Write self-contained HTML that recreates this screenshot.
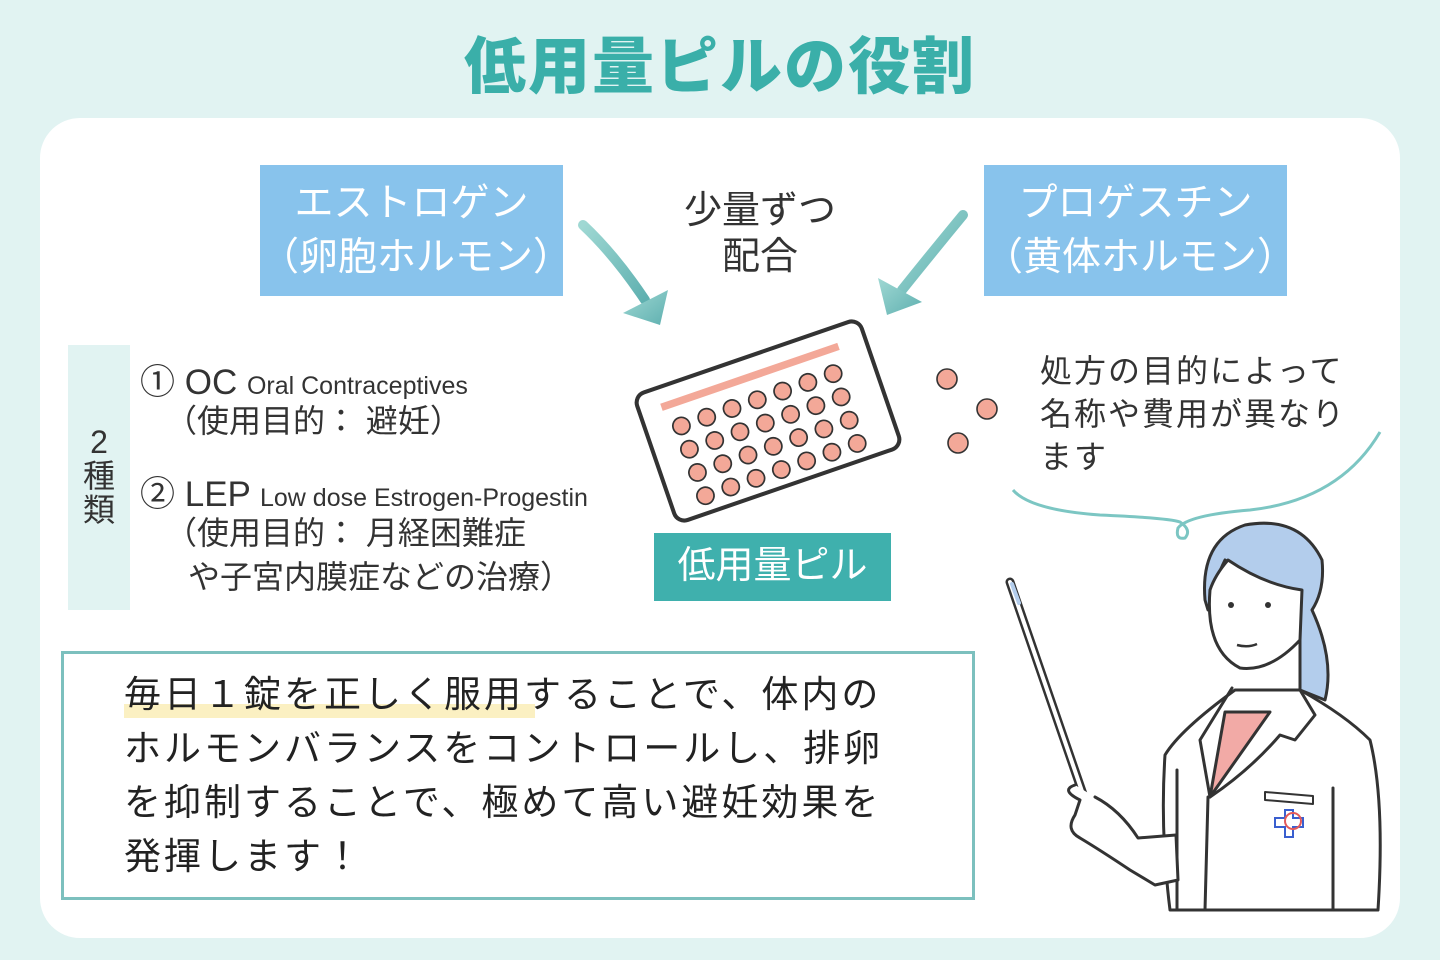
<!DOCTYPE html>
<html><head><meta charset="utf-8"><style>
body{margin:0;width:1440px;height:960px;background:#e1f3f2;overflow:hidden;font-family:"Liberation Sans","Noto Sans CJK JP",sans-serif}
.a{position:absolute;white-space:nowrap}
</style></head><body>
<div class="a" style="left:0;width:1440px;top:16px;text-align:center;font-size:62px;font-weight:900;color:#3aafa9;letter-spacing:2px">低用量ピルの役割</div>
<div class="a" style="left:40px;top:118px;width:1360px;height:820px;background:#fff;border-radius:40px"></div>
<div class="a" style="left:260px;top:165px;width:303px;height:131px;background:#88c3ec;color:#fff;font-size:39px;text-align:center;line-height:54px;padding-top:12px;box-sizing:border-box">エストロゲン<br>（卵胞ホルモン）</div>
<div class="a" style="left:984px;top:165px;width:303px;height:131px;background:#88c3ec;color:#fff;font-size:39px;text-align:center;line-height:54px;padding-top:12px;box-sizing:border-box">プロゲスチン<br>（黄体ホルモン）</div>
<div class="a" style="left:660px;top:188px;width:200px;text-align:center;font-size:38px;line-height:46px;color:#333">少量ずつ<br>配合</div>
<div class="a" style="left:68px;top:345px;width:62px;height:265px;background:#e1f3f2"></div>
<div class="a" style="left:80px;top:425px;width:38px;font-size:32px;line-height:34px;color:#333;text-align:center;white-space:normal">2種類</div>
<div class="a" style="left:140px;top:354px;font-size:35px;color:#333">① OC <span style="font-size:25px">Oral Contraceptives</span></div>
<div class="a" style="left:165px;top:396px;font-size:32px;color:#333">（使用目的： 避妊）</div>
<div class="a" style="left:140px;top:466px;font-size:35px;color:#333">② LEP <span style="font-size:25px">Low dose Estrogen-Progestin</span></div>
<div class="a" style="left:165px;top:508px;font-size:32px;color:#333">（使用目的： 月経困難症</div>
<div class="a" style="left:188px;top:552px;font-size:32px;color:#333">や子宮内膜症などの治療）</div>
<div class="a" style="left:654px;top:533px;width:237px;height:68px;background:#3fb0ad;color:#fff;font-size:38px;text-align:center;line-height:66px">低用量ピル</div>
<div class="a" style="left:1040px;top:350px;font-size:32px;line-height:43px;color:#333;letter-spacing:2px">処方の目的によって<br>名称や費用が異なり<br>ます</div>
<div class="a" style="left:61px;top:651px;width:914px;height:249px;border:3px solid #7cc0be;box-sizing:border-box"></div>
<div class="a" style="left:124px;top:704px;width:411px;height:14px;background:#fbf0c2"></div>
<div class="a" style="left:124px;top:668px;font-size:37px;line-height:54px;color:#222;letter-spacing:3px">毎日１錠を正しく服用することで、体内の<br>ホルモンバランスをコントロールし、排卵<br>を抑制することで、極めて高い避妊効果を<br>発揮します！</div>
<svg class="a" style="left:0;top:0" width="1440" height="960" viewBox="0 0 1440 960">
<defs><linearGradient id="g" x1="0" y1="0" x2="1" y2="1"><stop offset="0" stop-color="#9fd8d3"/><stop offset="1" stop-color="#5fb0b0"/></linearGradient></defs>
<path d="M583 225 Q615 255 645 300" stroke="url(#g)" stroke-width="10" fill="none" stroke-linecap="round"/>
<polygon points="623,313 668,290 660,325" fill="url(#g)"/>
<path d="M963 215 Q930 255 902 290" stroke="url(#g)" stroke-width="10" fill="none" stroke-linecap="round"/>
<polygon points="878,278 887,315 922,302" fill="url(#g)"/>
<g transform="translate(768,421) rotate(-19) scale(1.07)">
<rect x="-111" y="-63" width="222" height="126" rx="10" fill="#fff" stroke="#333" stroke-width="3.8"/>
<rect x="-90" y="-48" width="175" height="7" fill="#f3a898"/>
<g fill="#f3a898" stroke="#333" stroke-width="1.6">
<circle cx="-78" cy="-22" r="8"/><circle cx="-53" cy="-22" r="8"/><circle cx="-28" cy="-22" r="8"/><circle cx="-3" cy="-22" r="8"/><circle cx="22" cy="-22" r="8"/><circle cx="47" cy="-22" r="8"/><circle cx="72" cy="-22" r="8"/>
<circle cx="-78" cy="1" r="8"/><circle cx="-53" cy="1" r="8"/><circle cx="-28" cy="1" r="8"/><circle cx="-3" cy="1" r="8"/><circle cx="22" cy="1" r="8"/><circle cx="47" cy="1" r="8"/><circle cx="72" cy="1" r="8"/>
<circle cx="-78" cy="24" r="8"/><circle cx="-53" cy="24" r="8"/><circle cx="-28" cy="24" r="8"/><circle cx="-3" cy="24" r="8"/><circle cx="22" cy="24" r="8"/><circle cx="47" cy="24" r="8"/><circle cx="72" cy="24" r="8"/>
<circle cx="-78" cy="47" r="8"/><circle cx="-53" cy="47" r="8"/><circle cx="-28" cy="47" r="8"/><circle cx="-3" cy="47" r="8"/><circle cx="22" cy="47" r="8"/><circle cx="47" cy="47" r="8"/><circle cx="72" cy="47" r="8"/>
</g></g>
<g fill="#f3a898" stroke="#333" stroke-width="1.6"><circle cx="947" cy="379" r="10"/><circle cx="987" cy="409" r="10"/><circle cx="958" cy="443" r="10"/></g>
<path d="M1013 490 Q1030 510 1100 515 Q1170 518 1180 522 Q1192 530 1185 538 Q1175 540 1178 528 Q1188 515 1250 510 Q1340 500 1380 432" stroke="#7cc6c3" stroke-width="3" fill="none"/>
<g stroke="#333" stroke-width="3" stroke-linejoin="round" stroke-linecap="round">
<path d="M1205 600 Q1200 540 1245 525 Q1300 515 1322 560 Q1325 590 1312 610 Q1335 660 1325 700 L1300 690 Q1300 650 1300 620 L1300 590 Q1260 585 1225 560 Q1215 580 1208 610 Z" fill="#b3cdec"/>
<path d="M1210 590 Q1205 650 1240 668 Q1270 672 1300 640 L1302 590 Q1265 585 1228 560 Q1215 575 1210 590 Z" fill="#fff"/>
<path d="M1165 755 Q1180 730 1235 690 L1300 690 Q1345 715 1370 740 Q1385 800 1378 910 L1170 910 Q1160 830 1165 755 Z" fill="#fff"/>
<path d="M1225 712 L1270 712 L1210 797 Z" fill="#f2aaa6"/>
<path d="M1232 688 L1200 740 L1210 797 M1300 690 L1315 715 L1295 740 L1280 735 Q1250 770 1210 797 M1208 797 L1205 910 M1333 788 L1333 910 M1177 770 L1177 910" fill="none"/>
<path d="M1265 792 L1313 796 L1313 804 L1265 800 Z" fill="#fff" stroke-width="2"/>
<path d="M1010 582 L1085 800" stroke-width="9"/>
<path d="M1010 582 L1085 800" stroke="#fff" stroke-width="4"/>
<path d="M1012 584 L1019 603" stroke="#b3cdec" stroke-width="4"/>
<path d="M1075 785 Q1060 790 1080 800 L1075 815 Q1065 830 1080 838 Q1100 850 1130 870 L1155 885 L1178 880 L1176 835 L1138 838 Q1120 810 1095 797" fill="#fff"/>
</g>
<g fill="#333"><circle cx="1231" cy="605" r="3"/><circle cx="1268" cy="605" r="3"/></g>
<path d="M1237 645 Q1248 648 1257 644" stroke="#333" stroke-width="2.5" fill="none"/>
<path d="M1275 818 h10 v-8 h8 v8 h10 v9 h-10 v10 h-8 v-10 h-10 z" fill="none" stroke="#3a5fcf" stroke-width="2"/>
<circle cx="1293" cy="821" r="8" fill="none" stroke="#e35a5a" stroke-width="2"/>
</svg>
</body></html>
